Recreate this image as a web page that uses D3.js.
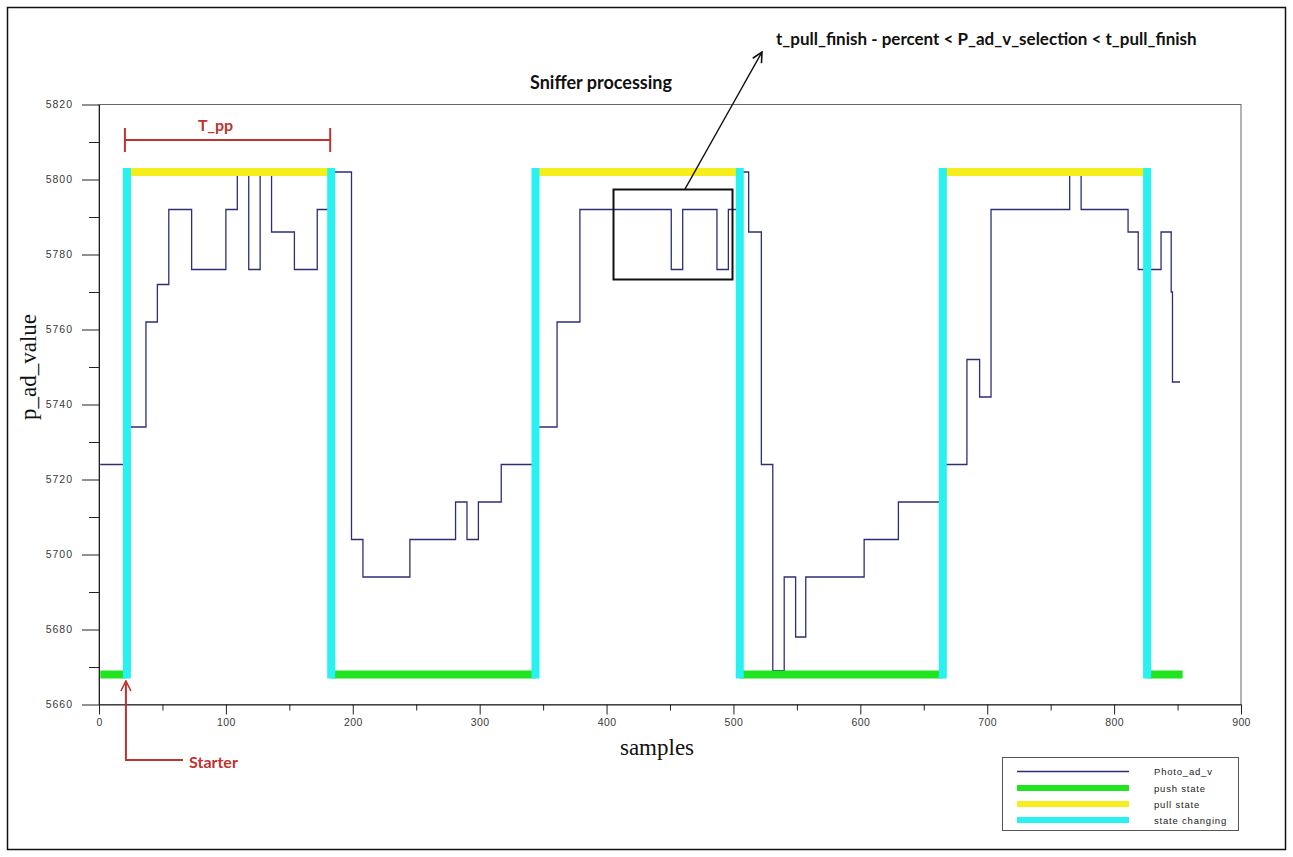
<!DOCTYPE html>
<html>
<head>
<meta charset="utf-8">
<script src="https://cdn.jsdelivr.net/npm/d3@7"></script>
<style>
  body { margin: 0; background: #ffffff; }
  svg { display: block; }
</style>
</head>
<body>
<svg id="chart" width="1293" height="857"></svg>
<script>
// Photo ADC reading: the sample at which each new value starts, and that value
const changeSamples = [1, 22, 37, 46, 55, 73, 100, 109, 118, 127, 136, 154, 172,
  183, 199, 208, 245, 281, 290, 299, 317,
  344, 361, 379, 451, 460, 487, 496, 506, 512, 522, 531, 540, 549, 557, 603, 630,
  665, 684, 694, 703, 765, 774, 811, 819, 837, 845, 846];
const changeValues = [5724, 5734, 5762, 5772, 5792, 5776, 5792, 5802, 5776, 5802, 5786, 5776, 5792,
  5802, 5704, 5694, 5704, 5714, 5704, 5714, 5724,
  5734, 5762, 5792, 5776, 5792, 5776, 5792, 5802, 5786, 5724, 5669, 5694, 5678, 5694, 5704, 5714,
  5724, 5752, 5742, 5792, 5802, 5792, 5786, 5776, 5786, 5770, 5746];
const lastSample = 852;

// State machine: samples where the state flips, and the level each state is drawn at
const stateChangeSamples = [22, 183, 344, 505, 665, 826];
const stateStart = 1;
const stateEnd = 854;
const pullLevel = 5802;
const pushLevel = 5668;

// Axes
const xMajorTicks = [0, 100, 200, 300, 400, 500, 600, 700, 800, 900];
const xMinorTicks = [50, 150, 250, 350, 450, 550, 650, 750, 850];
const yMajorTicks = [5660, 5680, 5700, 5720, 5740, 5760, 5780, 5800, 5820];
const yMinorTicks = [5670, 5690, 5710, 5730, 5750, 5770, 5790, 5810];

const legendLabels = ["Photo_ad_v", "push state", "pull state", "state changing"];

const COLORS = {
  signal: "#2e2e78",
  push: "#1fe41f",
  pull: "#f6ee1c",
  change: "#27f1f1",
  note: "#c0322e"
};

const svg = d3.select("#chart");

// Outer border of the figure
svg.append("rect")
  .attr("x", 7.5).attr("y", 7.5).attr("width", 1278).attr("height", 842)
  .attr("fill", "none").attr("stroke", "#111").attr("stroke-width", 1.5);

const x = d3.scaleLinear().domain([0, 900]).range([99, 1241]);
const y = d3.scaleLinear().domain([5660, 5820]).range([704.5, 104.5]);

// Plot frame
svg.append("rect")
  .attr("x", x(0)).attr("y", y(5820))
  .attr("width", x(900) - x(0)).attr("height", y(5660) - y(5820))
  .attr("fill", "none").attr("stroke", "#666").attr("stroke-width", 1);

const tickFont = g => g.selectAll("text")
  .attr("font-family", "'Liberation Sans', Arial, sans-serif")
  .attr("font-size", 10.5)
  .attr("letter-spacing", 1)
  .attr("fill", "#3a3a3a");

// Y axis: labelled major ticks plus minor ticks between them
svg.append("g")
  .attr("transform", `translate(${x(0)},0)`)
  .call(d3.axisLeft(y).tickValues(yMajorTicks).tickFormat(d3.format("d"))
    .tickSize(17).tickSizeOuter(0).tickPadding(9))
  .call(tickFont)
  .call(g => g.selectAll("line").attr("stroke", "#222"))
  .call(g => g.select(".domain").attr("stroke", "#222"));
svg.append("g")
  .attr("transform", `translate(${x(0)},0)`)
  .call(d3.axisLeft(y).tickValues(yMinorTicks).tickSize(10).tickFormat(""))
  .call(g => g.select(".domain").remove())
  .call(g => g.selectAll("line").attr("stroke", "#222"));

// X axis
svg.append("g")
  .attr("transform", `translate(0,${y(5660)})`)
  .call(d3.axisBottom(x).tickValues(xMajorTicks).tickFormat(d3.format("d"))
    .tickSize(10).tickSizeOuter(0).tickPadding(4))
  .call(tickFont)
  .call(g => g.selectAll("text").attr("letter-spacing", 0.4))
  .call(g => g.selectAll("line").attr("stroke", "#222"))
  .call(g => g.select(".domain").attr("stroke", "#222"));
svg.append("g")
  .attr("transform", `translate(0,${y(5660)})`)
  .call(d3.axisBottom(x).tickValues(xMinorTicks).tickSize(6).tickFormat(""))
  .call(g => g.select(".domain").remove())
  .call(g => g.selectAll("line").attr("stroke", "#222"));

// Axis titles
svg.append("text")
  .attr("transform", "translate(36,367) rotate(-90)")
  .attr("text-anchor", "middle")
  .attr("font-family", "'Liberation Serif', 'Times New Roman', serif")
  .attr("font-size", 23).attr("fill", "#111")
  .text("p_ad_value");
svg.append("text")
  .attr("x", 657).attr("y", 755)
  .attr("text-anchor", "middle")
  .attr("font-family", "'Liberation Serif', 'Times New Roman', serif")
  .attr("font-size", 23).attr("fill", "#111")
  .text("samples");

// Photo ADC signal as a step trace
const signal = changeSamples.map((s, i) => ({ s, v: changeValues[i] }));
signal.push({ s: lastSample, v: changeValues[changeValues.length - 1] });
svg.append("path")
  .datum(signal)
  .attr("fill", "none")
  .attr("stroke", COLORS.signal)
  .attr("stroke-width", 1.3)
  .attr("d", d3.line().x(d => x(d.s)).y(d => y(d.v)).curve(d3.curveStepAfter));

// State segments: push and pull alternate between the transitions
const bounds = [stateStart, ...stateChangeSamples, stateEnd];
const segments = d3.pairs(bounds).map(([a, b], i) => ({ a, b, state: i % 2 === 0 ? "push" : "pull" }));
svg.append("g").selectAll("line")
  .data(segments)
  .join("line")
  .attr("x1", d => x(d.a)).attr("x2", d => x(d.b))
  .attr("y1", d => y(d.state === "push" ? pushLevel : pullLevel))
  .attr("y2", d => y(d.state === "push" ? pushLevel : pullLevel))
  .attr("stroke", d => d.state === "push" ? COLORS.push : COLORS.pull)
  .attr("stroke-width", 8);

// State-change bars
svg.append("g").selectAll("line")
  .data(stateChangeSamples)
  .join("line")
  .attr("x1", d => x(d)).attr("x2", d => x(d))
  .attr("y1", y(pushLevel)).attr("y2", y(pullLevel))
  .attr("stroke", COLORS.change)
  .attr("stroke-width", 8)
  .attr("stroke-linecap", "square");

// Arrow heads
const defs = svg.append("defs");
function arrowMarker(id, color) {
  defs.append("marker")
    .attr("id", id)
    .attr("viewBox", "0 0 12 12")
    .attr("refX", 11).attr("refY", 6)
    .attr("markerWidth", 12).attr("markerHeight", 12)
    .attr("markerUnits", "userSpaceOnUse")
    .attr("orient", "auto")
    .append("path")
    .attr("d", "M1,1 L11,6 L1,11")
    .attr("fill", "none")
    .attr("stroke", color)
    .attr("stroke-width", 1.6);
}
arrowMarker("arrowRed", COLORS.note);
arrowMarker("arrowBlack", "#111");

const noteFont = "Lato, 'Open Sans', sans-serif";

// T_pp span over the first pull phase
const tA = x(stateChangeSamples[0]) - 2, tB = x(stateChangeSamples[1]) - 1;
const tpp = svg.append("g").attr("stroke", COLORS.note).attr("stroke-width", 2);
tpp.append("line").attr("x1", tA).attr("x2", tB).attr("y1", 140).attr("y2", 140);
tpp.append("line").attr("x1", tA).attr("x2", tA).attr("y1", 128).attr("y2", 152);
tpp.append("line").attr("x1", tB).attr("x2", tB).attr("y1", 128).attr("y2", 152);
svg.append("text")
  .attr("x", (tA + tB) / 2 - 12).attr("y", 131)
  .attr("text-anchor", "middle")
  .attr("font-family", noteFont).attr("font-weight", "bold")
  .attr("font-size", 16).attr("fill", COLORS.note)
  .text("T_pp");

// Starter pointer
svg.append("path")
  .attr("d", `M183,760 H${x(stateChangeSamples[0]) - 1} V681`)
  .attr("fill", "none")
  .attr("stroke", COLORS.note).attr("stroke-width", 2)
  .attr("marker-end", "url(#arrowRed)");
svg.append("text")
  .attr("x", 189).attr("y", 768)
  .attr("font-family", noteFont).attr("font-weight", "bold")
  .attr("font-size", 16).attr("fill", COLORS.note)
  .text("Starter");

// Sniffer window and its condition
svg.append("rect")
  .attr("x", 613.5).attr("y", 189.5).attr("width", 119).attr("height", 90)
  .attr("fill", "none").attr("stroke", "#111").attr("stroke-width", 2);
svg.append("line")
  .attr("x1", 685).attr("y1", 189).attr("x2", 762).attr("y2", 52)
  .attr("stroke", "#111").attr("stroke-width", 1.5)
  .attr("marker-end", "url(#arrowBlack)");
svg.append("text")
  .attr("x", 530).attr("y", 89)
  .attr("font-family", noteFont).attr("font-weight", "bold")
  .attr("font-size", 18).attr("fill", "#111")
  .text("Sniffer processing");
svg.append("text")
  .attr("x", 776).attr("y", 45)
  .attr("font-family", noteFont).attr("font-weight", "bold")
  .attr("font-size", 17).attr("fill", "#111")
  .text("t_pull_finish - percent < P_ad_v_selection < t_pull_finish");

// Legend
const legend = svg.append("g");
legend.append("rect")
  .attr("x", 1002.5).attr("y", 757.5).attr("width", 236).attr("height", 73)
  .attr("fill", "#fff").attr("stroke", "#555").attr("stroke-width", 1);
const legendRows = [
  { label: legendLabels[0], color: COLORS.signal, width: 1.3 },
  { label: legendLabels[1], color: COLORS.push, width: 6 },
  { label: legendLabels[2], color: COLORS.pull, width: 6 },
  { label: legendLabels[3], color: COLORS.change, width: 6 }
];
const rowY = [771.5, 788, 804, 820];
legendRows.forEach((r, i) => {
  legend.append("line")
    .attr("x1", 1017).attr("x2", 1129)
    .attr("y1", rowY[i]).attr("y2", rowY[i])
    .attr("stroke", r.color).attr("stroke-width", r.width);
  legend.append("text")
    .attr("x", 1154).attr("y", rowY[i] + 3.5)
    .attr("font-family", "'Liberation Sans', Arial, sans-serif")
    .attr("font-size", 9.5).attr("letter-spacing", 0.8)
    .attr("fill", "#222")
    .text(r.label);
});
</script>
</body>
</html>
